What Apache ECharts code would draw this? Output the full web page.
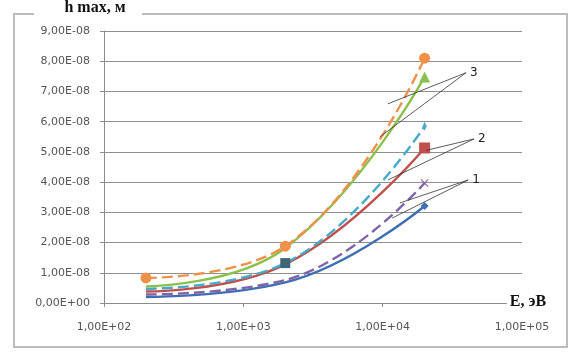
<!DOCTYPE html>
<html>
<head>
<meta charset="utf-8">
<script src="https://cdn.jsdelivr.net/npm/echarts@6/dist/echarts.min.js"></script>
<style>
  html, body { margin: 0; padding: 0; background: #fff; }
  #chart { width: 573px; height: 356px; }
</style>
</head>
<body>
<div id="chart"></div>
<script>
// Ion energy, eV
const energies = [200, 2000, 20000];

// Maximum depth h max (units of 1e-8 m) for each curve
const hBlue   = [0.20, 0.68, 3.21];
const hPurple = [0.28, 0.76, 3.97];
const hRed    = [0.38, 1.28, 5.13];
const hCyan   = [0.47, 1.32, 5.85];
const hGreen  = [0.55, 1.82, 7.48];
const hOrange = [0.83, 1.88, 8.10];

// Curve group labels and the points (E, h) their leader lines reach
const groupLabels = ['1', '2', '3'];
const labelAnchors = [[43900, 4.07], [48400, 5.43], [42400, 7.62]];
const leaderEnds = [
  [[13300, 3.31], [11700, 2.81]],
  [[20500, 5.05], [10900, 4.07]],
  [[10900, 6.59], [9570, 5.50]]
];

// Axis tick values
const yTicks = [0, 1, 2, 3, 4, 5, 6, 7, 8, 9];
const xDecades = [100, 1000, 10000, 100000];

const chart = echarts.init(document.getElementById('chart'));

const xSymbol = 'path://M0,1L1,0L5,4L9,0L10,1L6,5L10,9L9,10L5,6L1,10L0,9L4,5Z';

function pts(values, lastSymbol, lastSize, extra) {
  return values.map((v, i) => {
    const item = { value: [energies[i], v], symbol: 'none' };
    if (i === values.length - 1) { item.symbol = lastSymbol; item.symbolSize = lastSize; }
    if (extra && extra[i]) Object.assign(item, extra[i]);
    return item;
  });
}

function line(name, color, data, dashed) {
  return {
    name, type: 'line', smooth: 0.45, data,
    lineStyle: { color, width: 2.4, type: dashed ? [11, 5] : 'solid' },
    itemStyle: { color },
    z: 3
  };
}

const fmtY = v => v === 0 ? '0,00E+00' : v.toFixed(2).replace('.', ',') + 'E-08';
const fmtX = v => '1,00E+0' + Math.round(Math.log10(v));

chart.setOption({
  animation: false,
  grid: { left: 104, right: 51, top: 31, bottom: 53 },
  xAxis: {
    type: 'log', logBase: 10, min: xDecades[0], max: xDecades[xDecades.length - 1],
    axisLine: { lineStyle: { color: '#8c8c8c', width: 1 } },
    axisTick: { show: true, length: 4, lineStyle: { color: '#8c8c8c' } },
    splitLine: { show: false },
    minorTick: { show: false },
    axisLabel: {
      formatter: fmtX, margin: 19, color: '#555',
      fontFamily: 'DejaVu Sans', fontSize: 11
    }
  },
  yAxis: {
    type: 'value', min: yTicks[0], max: yTicks[yTicks.length - 1], interval: 1,
    axisLine: { show: true, lineStyle: { color: '#8c8c8c', width: 1 } },
    axisTick: { show: true, length: 4, lineStyle: { color: '#8c8c8c' } },
    splitLine: { lineStyle: { color: '#8f8f8f', width: 1 } },
    axisLabel: {
      formatter: fmtY, margin: 14, color: '#555',
      fontFamily: 'DejaVu Sans', fontSize: 11
    }
  },
  series: [
    line('1a', '#3f6fb3', pts(hBlue, 'diamond', 8), false),
    line('1b', '#8064a8', pts(hPurple, xSymbol, 8), true),
    line('2a', '#c0504d', pts(hRed, 'rect', 11), false),
    line('2b', '#46aac8', pts(hCyan, 'diamond', [4, 9], {
      1: { symbol: 'rect', symbolSize: 10, itemStyle: { color: '#3d6777' } }
    }), true),
    line('3a', '#8cc04c', pts(hGreen, 'triangle', 11), false),
    line('3b', '#f0914a', energies.map((e, i) => ({ value: [e, hOrange[i]], symbol: 'circle', symbolSize: 11 })), true)
  ]
});

// Frame, axis titles and group annotations
function drawAnnotations() {
  const px = p => chart.convertToPixel({ gridIndex: 0 }, p);
  const g = [
    { type: 'rect', shape: { x: 14, y: 14, width: 553, height: 333 },
      style: { fill: 'none', stroke: '#bcbcbc', lineWidth: 2 }, z: 0 },
    { type: 'rect', shape: { x: 34, y: 4, width: 108, height: 18 },
      style: { fill: '#fff' }, z: 1 },
    { type: 'text', x: 95, y: 8, z: 2,
      style: { text: 'h max, м', fill: '#111', font: 'bold 16px "Liberation Serif"',
               textAlign: 'center', textVerticalAlign: 'middle' } },
    { type: 'text', x: 528, y: 302, z: 2,
      style: { text: 'E, эВ', fill: '#111', font: 'bold 16px "Liberation Serif"',
               textAlign: 'center', textVerticalAlign: 'middle',
               backgroundColor: '#fff', padding: [2, 3] } }
  ];
  groupLabels.forEach((lab, k) => {
    const a = px(labelAnchors[k]);
    leaderEnds[k].forEach(end => {
      const b = px(end);
      g.push({ type: 'line', z: 5,
        shape: { x1: a[0] - 4, y1: a[1], x2: b[0], y2: b[1] },
        style: { stroke: '#333', lineWidth: 0.8 } });
    });
    g.push({ type: 'text', x: a[0], y: a[1], z: 6,
      style: { text: lab, fill: '#222', font: '12px "DejaVu Sans"',
               textAlign: 'left', textVerticalAlign: 'middle' } });
  });
  chart.setOption({ graphic: g });
}
drawAnnotations();
</script>
</body>
</html>
